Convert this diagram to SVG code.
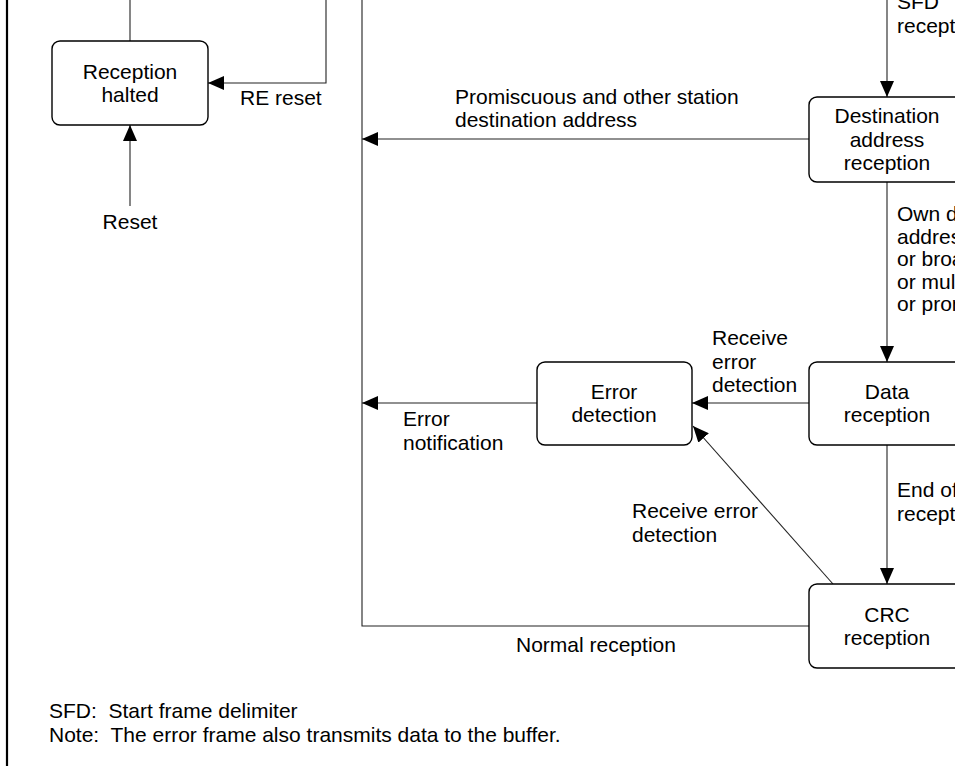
<svg xmlns="http://www.w3.org/2000/svg" width="955" height="766" viewBox="0 0 955 766">
  <defs>
    <marker id="arrow" markerUnits="userSpaceOnUse" markerWidth="17" markerHeight="14" refX="16" refY="7" orient="auto">
      <path d="M0,0 L16,7 L0,14 Z" fill="#000"/>
    </marker>
    <style>
      .box { fill: #fff; stroke: #000; stroke-width: 1.4; }
      .wire { fill: none; stroke: #222; stroke-width: 1.1; }
      .arr { marker-end: url(#arrow); }
      text { font-family: "Liberation Sans", Arial, sans-serif; font-size: 21px; fill: #000; }
      .c { text-anchor: middle; }
    </style>
  </defs>
  <rect width="955" height="766" fill="#fff"/>

  <!-- frame edge -->
  <line x1="7" y1="0" x2="7" y2="766" stroke="#000" stroke-width="2.2"/>

  <g id="connectors">
    <!-- from reception halted upward -->
    <line class="wire" x1="130" y1="41" x2="130" y2="0"/>
    <!-- RE reset -->
    <path class="wire arr" d="M326,0 V83 H208"/>
    <!-- Reset -->
    <line class="wire arr" x1="130" y1="206" x2="130" y2="125"/>
    <!-- SFD reception -->
    <line class="wire arr" x1="887" y1="0" x2="887" y2="97"/>
    <!-- promiscuous / other station -->
    <line class="wire arr" x1="809" y1="139" x2="362" y2="139"/>
    <!-- own destination address etc. -->
    <line class="wire arr" x1="887" y1="182" x2="887" y2="362"/>
    <!-- receive error detection (data) -->
    <line class="wire arr" x1="809" y1="403" x2="692" y2="403"/>
    <!-- error notification -->
    <line class="wire arr" x1="537" y1="403" x2="362" y2="403"/>
    <!-- end of reception -->
    <line class="wire arr" x1="887" y1="444" x2="887" y2="584"/>
    <!-- receive error detection (CRC) -->
    <line class="wire arr" x1="833" y1="584" x2="693" y2="426"/>
    <!-- normal reception -->
    <path class="wire" d="M809,626 H362 V0"/>
  </g>

  <g id="reception-halted">
    <rect class="box" x="52" y="41" width="156" height="84" rx="8"/>
    <text class="c" x="130" y="78.5">Reception</text>
    <text class="c" x="130" y="102">halted</text>
  </g>

  <g id="destination-address-reception">
    <rect class="box" x="809" y="97" width="156" height="85" rx="8"/>
    <text class="c" x="887" y="123">Destination</text>
    <text class="c" x="887" y="146.5">address</text>
    <text class="c" x="887" y="170">reception</text>
  </g>

  <g id="data-reception">
    <rect class="box" x="809" y="362" width="156" height="83" rx="8"/>
    <text class="c" x="887" y="398.5">Data</text>
    <text class="c" x="887" y="422">reception</text>
  </g>

  <g id="error-detection">
    <rect class="box" x="537" y="362" width="155" height="83" rx="8"/>
    <text class="c" x="614" y="398.5">Error</text>
    <text class="c" x="614" y="422">detection</text>
  </g>

  <g id="crc-reception">
    <rect class="box" x="809" y="584" width="156" height="84" rx="8"/>
    <text class="c" x="887" y="621.5">CRC</text>
    <text class="c" x="887" y="645">reception</text>
  </g>

  <g id="labels">
    <text x="240" y="105">RE reset</text>
    <text class="c" x="130" y="229">Reset</text>
    <text x="897" y="9">SFD</text>
    <text x="897" y="33">recept</text>
    <text x="455" y="104">Promiscuous and other station</text>
    <text x="455" y="127">destination address</text>
    <text x="897" y="221">Own d</text>
    <text x="897" y="243.5">addres</text>
    <text x="897" y="266">or broa</text>
    <text x="897" y="288.5">or mul</text>
    <text x="897" y="311">or pror</text>
    <text x="712" y="345">Receive</text>
    <text x="712" y="368.5">error</text>
    <text x="712" y="392">detection</text>
    <text x="403" y="426">Error</text>
    <text x="403" y="449.5">notification</text>
    <text x="897" y="497">End of</text>
    <text x="897" y="521">recept</text>
    <text x="632" y="518">Receive error</text>
    <text x="632" y="541.5">detection</text>
    <text x="516" y="652">Normal reception</text>
    <text x="49" y="718" xml:space="preserve">SFD:  Start frame delimiter</text>
    <text x="49" y="742" xml:space="preserve">Note:  The error frame also transmits data to the buffer.</text>
  </g>
</svg>
